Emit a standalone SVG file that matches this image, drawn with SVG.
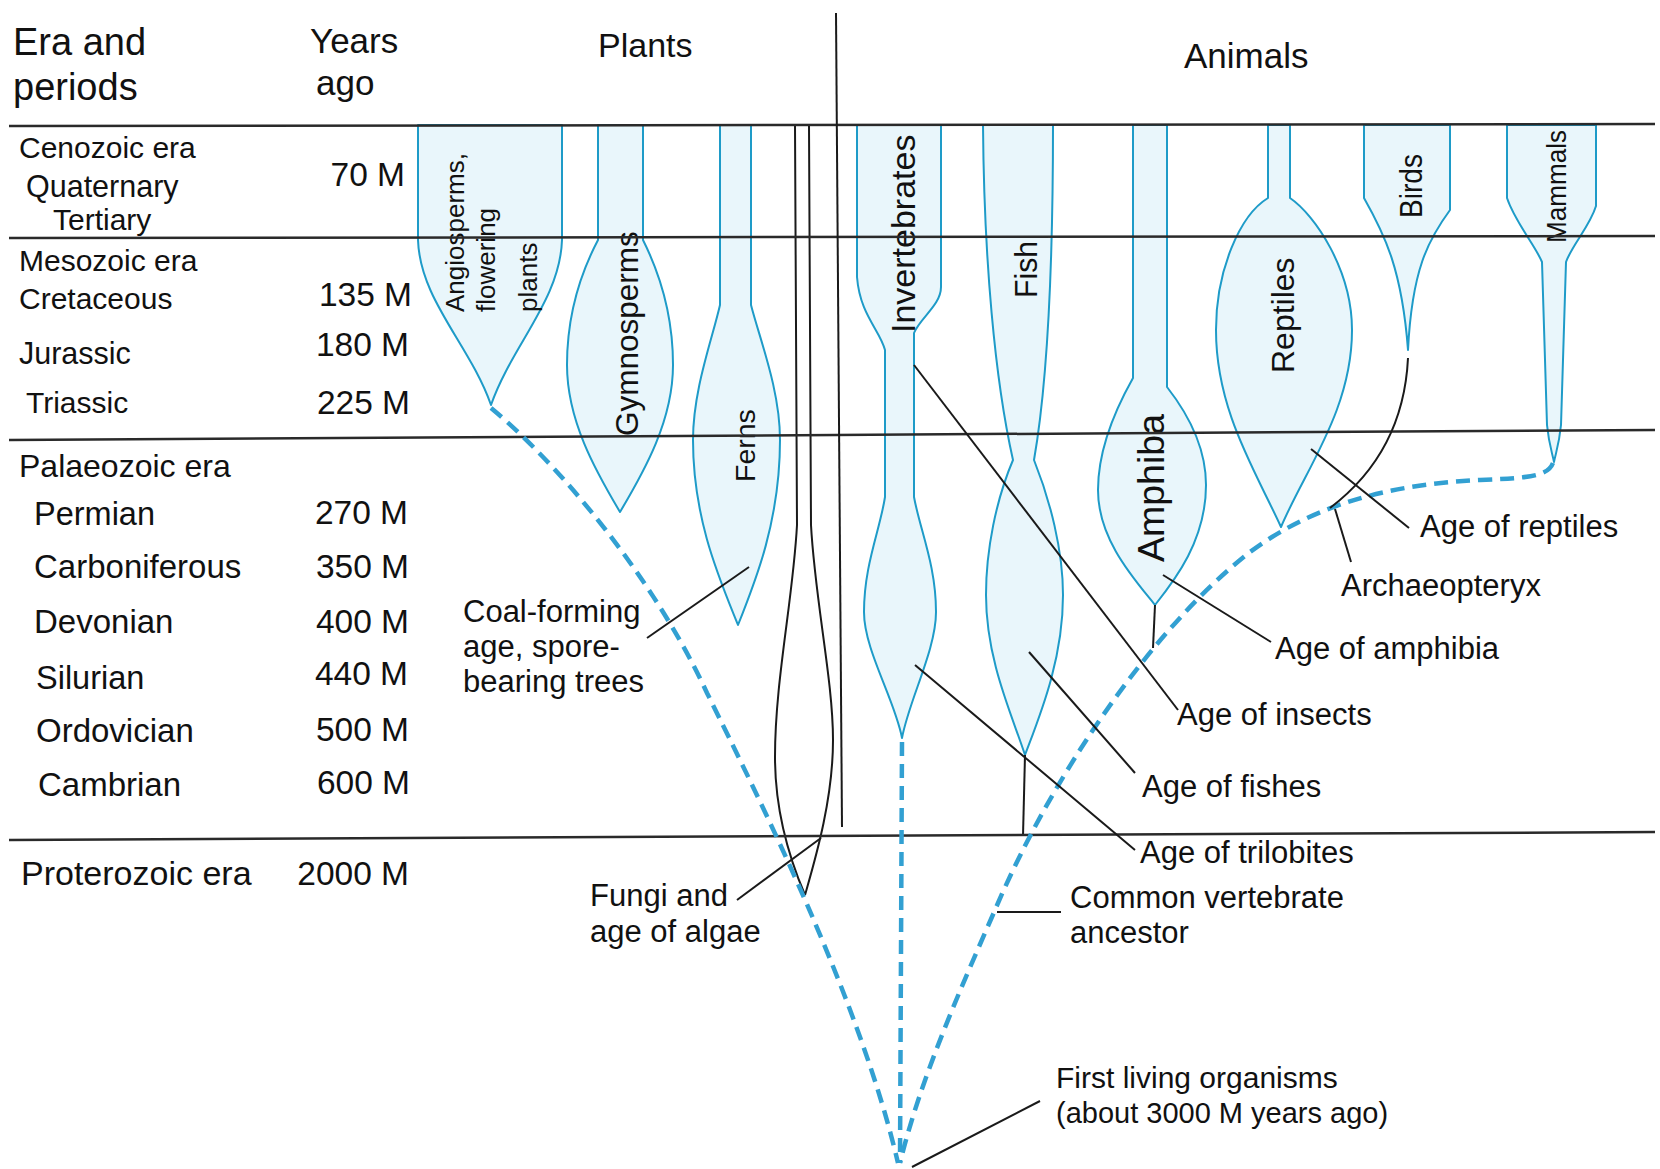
<svg xmlns="http://www.w3.org/2000/svg" width="1660" height="1169" viewBox="0 0 1660 1169">
<style>
.t{font-family:"Liberation Sans",Arial,sans-serif;fill:#111111}
.sh{fill:#e9f6fb;stroke:#1e9bc8;stroke-width:2;stroke-linejoin:round}
.hl{stroke:#2a2a2a;stroke-width:2.5;fill:none}
.ln{stroke:#1a1a1a;stroke-width:2;fill:none}
.ds{stroke:#32a0d2;stroke-width:4.5;fill:none;stroke-dasharray:14 8}
.n{text-anchor:end}
</style>
<rect x="0" y="0" width="1660" height="1169" fill="#ffffff"/>

<g id="headers">
<text class="t" x="13" y="55" font-size="38">Era and</text>
<text class="t" x="13" y="100" font-size="38">periods</text>
<text class="t" x="310" y="53" font-size="35">Years</text>
<text class="t" x="316" y="95" font-size="35">ago</text>
<text class="t" x="598" y="57" font-size="34">Plants</text>
<text class="t" x="1184" y="68" font-size="35">Animals</text>
</g>

<g id="eras">
<text class="t" x="19" y="158" font-size="30">Cenozoic era</text>
<text class="t" x="26" y="197" font-size="30.5">Quaternary</text>
<text class="t" x="53" y="230" font-size="30">Tertiary</text>
<text class="t" x="19" y="271" font-size="30">Mesozoic era</text>
<text class="t" x="19" y="309" font-size="30">Cretaceous</text>
<text class="t" x="19" y="364" font-size="30.5">Jurassic</text>
<text class="t" x="26" y="413" font-size="30">Triassic</text>
<text class="t" x="19" y="477" font-size="32">Palaeozoic era</text>
<text class="t" x="34" y="525" font-size="32.5">Permian</text>
<text class="t" x="34" y="578" font-size="33">Carboniferous</text>
<text class="t" x="34" y="633" font-size="33">Devonian</text>
<text class="t" x="36" y="689" font-size="32.5">Silurian</text>
<text class="t" x="36" y="742" font-size="33">Ordovician</text>
<text class="t" x="38" y="796" font-size="33">Cambrian</text>
<text class="t" x="21" y="885" font-size="34">Proterozoic era</text>
</g>

<g id="years" font-size="33.5">
<text class="t n" x="405" y="186">70 M</text>
<text class="t n" x="412" y="306">135 M</text>
<text class="t n" x="409" y="356">180 M</text>
<text class="t n" x="410" y="414">225 M</text>
<text class="t n" x="408" y="524">270 M</text>
<text class="t n" x="409" y="578">350 M</text>
<text class="t n" x="409" y="633">400 M</text>
<text class="t n" x="408" y="685">440 M</text>
<text class="t n" x="409" y="741">500 M</text>
<text class="t n" x="410" y="794">600 M</text>
<text class="t n" x="409" y="885">2000 M</text>
</g>

<g id="node-angiosperms">
<path class="sh" d="M418,125 L418,240 C420,300 470,345 491,405 C512,345 560,300 562,240 L562,125 Z"/>
<text class="t" font-size="26" transform="translate(464,312) rotate(-90)">Angiosperms,</text>
<text class="t" font-size="26" transform="translate(495,312) rotate(-90)">flowering</text>
<text class="t" font-size="26" transform="translate(537,312) rotate(-90)">plants</text>
</g>

<g id="node-gymnosperms">
<path class="sh" d="M598,125 L598,240 C577,280 567,320 567,365 C567,420 595,470 620,512 C645,470 673,420 673,365 C673,320 663,280 643,240 L643,125 Z"/>
<text class="t" font-size="31.5" transform="translate(638,436) rotate(-90)">Gymnosperms</text>
</g>

<g id="node-ferns">
<path class="sh" d="M720,125 L720,305 C712,340 693,390 693,440 C693,520 720,580 738,625 C756,580 780,520 780,440 C780,390 760,340 751,305 L751,125 Z"/>
<text class="t" font-size="28.5" transform="translate(755,482) rotate(-90)">Ferns</text>
</g>

<g id="node-fungi-algae">
<path class="ln" d="M795,125 L797,525 C793,600 775,680 775,757 C775,810 790,860 805,895"/>
<path class="ln" d="M809,125 L811,525 C815,600 833,680 833,740 C833,800 815,860 805,895"/>
</g>

<g id="node-invertebrates">
<path class="sh" d="M857,125 L857,277 C860,315 880,330 885,350 L885,497 C880,530 864,565 864,612 C864,650 895,700 902,738 C909,700 936,650 936,612 C936,565 920,530 914,497 L914,333 C920,318 941,305 941,287 L941,125 Z"/>
<text class="t" font-size="34" transform="translate(915,333) rotate(-90)">Invertebrates</text>
</g>

<g id="node-fish">
<path class="sh" d="M983,125 C984,260 995,380 1013,460 C996,500 986,550 986,595 C986,660 1012,715 1025,755 C1040,715 1063,660 1063,595 C1063,550 1050,500 1034,460 C1048,380 1053,260 1053,125 Z"/>
<path class="ln" d="M1025,755 L1023,836"/>
<text class="t" font-size="31" textLength="57" lengthAdjust="spacingAndGlyphs" transform="translate(1037,298) rotate(-90)">Fish</text>
</g>

<g id="node-amphibia">
<path class="sh" d="M1133,125 L1133,378 C1115,410 1098,450 1098,490 C1098,540 1135,580 1155,605 C1175,580 1206,540 1206,485 C1206,445 1185,410 1167,387 L1167,125 Z"/>
<path class="ln" d="M1155,605 L1153,648"/>
<text class="t" font-size="36" textLength="148" lengthAdjust="spacingAndGlyphs" transform="translate(1164,562) rotate(-90)">Amphiba</text>
</g>

<g id="node-reptiles">
<path class="sh" d="M1268,125 L1268,198 C1240,215 1216,270 1216,330 C1216,410 1255,470 1281,527 C1305,470 1352,410 1352,330 C1352,270 1315,215 1290,198 L1290,125 Z"/>
<text class="t" font-size="32" transform="translate(1294,373) rotate(-90)">Reptiles</text>
</g>

<g id="node-birds">
<path class="sh" d="M1364,125 L1364,198 C1385,235 1402,270 1408,350 C1412,270 1428,240 1450,210 L1450,125 Z"/>
<text class="t" font-size="32" textLength="64" lengthAdjust="spacingAndGlyphs" transform="translate(1422,218) rotate(-90)">Birds</text>
</g>

<g id="node-mammals">
<path class="sh" d="M1507,125 L1507,198 C1515,222 1535,245 1542,262 L1547,425 C1549,445 1552,452 1554,462 C1556,452 1559,445 1561,425 L1566,262 C1572,245 1590,226 1596,206 L1596,125 Z"/>
<text class="t" font-size="27" textLength="113" lengthAdjust="spacingAndGlyphs" transform="translate(1566,243) rotate(-90)">Mammals</text>
</g>

<g id="grid">
<path class="hl" d="M9,126 L1655,124"/>
<path class="hl" d="M9,238 L1655,236"/>
<path class="hl" d="M9,440 L1655,430"/>
<path class="hl" d="M9,840 L1655,832"/>
<path class="ln" d="M836,13 L842,827"/>
</g>

<g id="connectors">
<path class="ds" d="M491,408 C560,465 655,580 707,693 C760,800 860,1000 898,1163"/>
<path class="ds" d="M902,742 L900,1163"/>
<path class="ds" d="M1553,463 C1548,476 1530,478 1480,480 C1400,484 1320,500 1250,552 C1150,630 1050,780 995,910 C960,990 920,1080 900,1163"/>
<path class="ln" d="M1408,358 C1405,420 1380,470 1330,508"/>
<path class="ln" d="M749,567 L647,638"/>
<path class="ln" d="M821,838 L737,900"/>
<path class="ln" d="M997,912 L1061,912"/>
<path class="ln" d="M912,1167 L1040,1101"/>
<path class="ln" d="M1311,449 L1409,528"/>
<path class="ln" d="M1335,509 L1351,562"/>
<path class="ln" d="M1163,575 L1271,642"/>
<path class="ln" d="M914,365 L1178,710"/>
<path class="ln" d="M1029,652 L1135,773"/>
<path class="ln" d="M915,665 L1135,850"/>
</g>

<g id="labels" font-size="31">
<text class="t" x="463" y="622">Coal-forming</text>
<text class="t" x="463" y="657">age, spore-</text>
<text class="t" x="463" y="692">bearing trees</text>
<text class="t" x="590" y="906">Fungi and</text>
<text class="t" x="590" y="942">age of algae</text>
<text class="t" x="1070" y="908">Common vertebrate</text>
<text class="t" x="1070" y="943">ancestor</text>
<text class="t" x="1056" y="1088" font-size="30">First living organisms</text>
<text class="t" x="1056" y="1123" font-size="29">(about 3000 M years ago)</text>
<text class="t" x="1420" y="537">Age of reptiles</text>
<text class="t" x="1341" y="596">Archaeopteryx</text>
<text class="t" x="1275" y="659">Age of amphibia</text>
<text class="t" x="1177" y="725">Age of insects</text>
<text class="t" x="1142" y="797">Age of fishes</text>
<text class="t" x="1140" y="863">Age of trilobites</text>
</g>
</svg>
